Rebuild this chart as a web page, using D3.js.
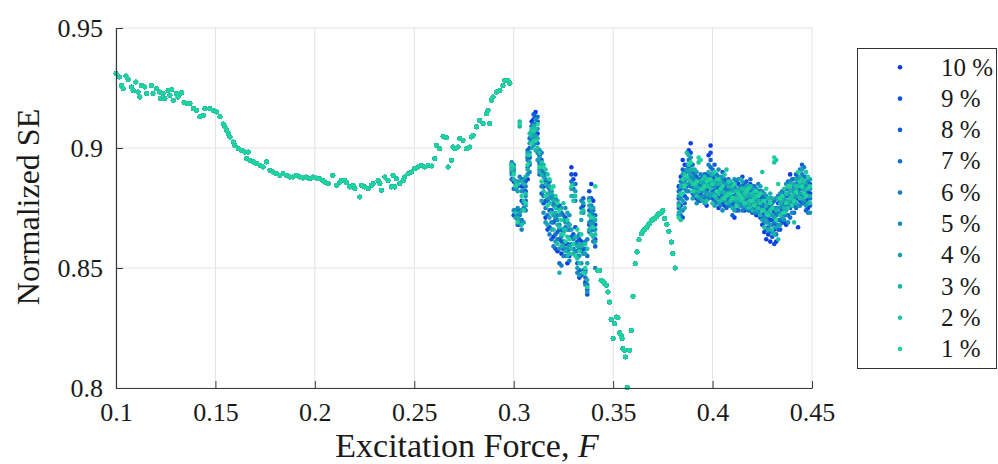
<!DOCTYPE html>
<html>
<head>
<meta charset="utf-8">
<script src="https://cdn.jsdelivr.net/npm/d3@7"></script>
<style>
  body { margin: 0; background: #fff; }
  text { font-family: "Liberation Serif", "Times New Roman", serif; fill: #1a1a1a; }
</style>
</head>
<body>
<div id="chart"></div>
<script>
var svgWidth = 998;
var svgHeight = 464;

// legend entries, drawn first to last (1 % ends up on top)
var levels = ["10 %", "9 %", "8 %", "7 %", "6 %", "5 %", "4 %", "3 %", "2 %", "1 %"];

var xTicks = [0.1, 0.15, 0.2, 0.25, 0.3, 0.35, 0.4, 0.45];
var yTicks = [0.8, 0.85, 0.9, 0.95];

// F < 0.3 : all levels sit on the same branch
var smoothF = [0.1000, 0.1017, 0.1028, 0.1036, 0.1050, 0.1061, 0.1078, 0.1086, 0.1100, 0.1111,
  0.1120, 0.1128, 0.1145, 0.1154, 0.1178, 0.1186, 0.1203, 0.1220, 0.1224, 0.1237,
  0.1246, 0.1262, 0.1271, 0.1280, 0.1288, 0.1304, 0.1312, 0.1320, 0.1330, 0.1342,
  0.1359, 0.1372, 0.1390, 0.1405, 0.1422, 0.1439, 0.1447, 0.1472, 0.1489, 0.1506,
  0.1523, 0.1539, 0.1548, 0.1556, 0.1565, 0.1573, 0.1590, 0.1598, 0.1615, 0.1632,
  0.1648, 0.1657, 0.1665, 0.1673, 0.1690, 0.1707, 0.1724, 0.1740, 0.1757, 0.1774,
  0.1790, 0.1807, 0.1824, 0.1840, 0.1857, 0.1874, 0.1890, 0.1907, 0.1924, 0.1940,
  0.1957, 0.1974, 0.1990, 0.2007, 0.2024, 0.2040, 0.2050, 0.2067, 0.2090, 0.2110,
  0.2126, 0.2134, 0.2150, 0.2160, 0.2176, 0.2192, 0.2201, 0.2226, 0.2235, 0.2250,
  0.2268, 0.2285, 0.2293, 0.2318, 0.2327, 0.2335, 0.2352, 0.2368, 0.2385, 0.2393,
  0.2402, 0.2410, 0.2427, 0.2444, 0.2452, 0.2469, 0.2486, 0.2502, 0.2518, 0.2535,
  0.2552, 0.2570, 0.2588, 0.2603, 0.2611, 0.2628, 0.2645, 0.2661, 0.2670, 0.2687,
  0.2695, 0.2704, 0.2720, 0.2729, 0.2745, 0.2762, 0.2779, 0.2787, 0.2796, 0.2813,
  0.2829, 0.2846, 0.2863, 0.2871, 0.2879, 0.2888, 0.2896, 0.2913, 0.2930, 0.2946,
  0.2955, 0.2971, 0.2980];
var smoothSE = [0.9310, 0.9296, 0.9260, 0.9247, 0.9300, 0.9285, 0.9254, 0.9240, 0.9275, 0.9233,
  0.9212, 0.9260, 0.9254, 0.9227, 0.9260, 0.9227, 0.9247, 0.9233, 0.9206, 0.9227,
  0.9206, 0.9240, 0.9220, 0.9243, 0.9199, 0.9227, 0.9212, 0.9225, 0.9230, 0.9190,
  0.9185, 0.9185, 0.9164, 0.9157, 0.9130, 0.9136, 0.9164, 0.9164, 0.9157, 0.9150,
  0.9130, 0.9100, 0.9088, 0.9074, 0.9060, 0.9046, 0.9025, 0.9010, 0.8997, 0.8990,
  0.8983, 0.8956, 0.8983, 0.8949, 0.8942, 0.8935, 0.8928, 0.8921, 0.8942, 0.8907,
  0.8900, 0.8893, 0.8886, 0.8893, 0.8886, 0.8879, 0.8879, 0.8886, 0.8879, 0.8875,
  0.8879, 0.8872, 0.8879, 0.8875, 0.8872, 0.8865, 0.8858, 0.8852, 0.8886, 0.8845,
  0.8858, 0.8865, 0.8865, 0.8855, 0.8838, 0.8845, 0.8831, 0.8796, 0.8845, 0.8838,
  0.8831, 0.8845, 0.8852, 0.8865, 0.8852, 0.8824, 0.8879, 0.8865, 0.8838, 0.8886,
  0.8838, 0.8872, 0.8852, 0.8865, 0.8879, 0.8893, 0.8900, 0.8914, 0.8921, 0.8928,
  0.8921, 0.8928, 0.8925, 0.8956, 0.9011, 0.8997, 0.9049, 0.9043, 0.8921, 0.8949,
  0.9004, 0.8997, 0.9004, 0.9039, 0.9032, 0.8997, 0.9004, 0.9046, 0.9053, 0.9088,
  0.9115, 0.9102, 0.9143, 0.9157, 0.9102, 0.9199, 0.9212, 0.9233, 0.9240, 0.9260,
  0.9282, 0.9282, 0.9270];

// 0.3 < F < 0.342 : levels split, one row per F, columns 10 % ... 1 %
var burstF = [0.299, 0.300, 0.301, 0.302, 0.303, 0.304, 0.305, 0.306, 0.307, 0.308,
  0.309, 0.310, 0.311, 0.312, 0.313, 0.314, 0.315, 0.316, 0.317, 0.318,
  0.319, 0.320, 0.321, 0.322, 0.323, 0.324, 0.325, 0.326, 0.327, 0.328,
  0.329, 0.330, 0.331, 0.332, 0.333, 0.334, 0.335, 0.336, 0.337, 0.338,
  0.339, 0.340, 0.341];
var burstSE = [
  [0.890, 0.893, 0.887, 0.891, 0.894, 0.889, 0.892, 0.893, 0.891, 0.893],
  [0.886, 0.872, 0.891, 0.883, 0.893, 0.874, 0.890, 0.887, 0.892, 0.889],
  [0.884, 0.872, 0.886, 0.874, 0.883, 0.885, 0.871, 0.886, 0.873, 0.884],
  [0.873, 0.868, 0.884, 0.870, 0.886, 0.875, 0.882, 0.871, 0.885, 0.869],
  [0.869, 0.874, 0.868, 0.872, 0.888, 0.870, 0.873, 0.909, 0.911, 0.910],
  [0.878, 0.884, 0.870, 0.887, 0.866, 0.882, 0.874, 0.886, 0.868, 0.880],
  [0.884, 0.886, 0.877, 0.882, 0.875, 0.887, 0.869, 0.885, 0.878, 0.874],
  [0.882, 0.878, 0.886, 0.874, 0.884, 0.880, 0.876, 0.888, 0.881, 0.877],
  [0.887, 0.896, 0.899, 0.892, 0.895, 0.889, 0.898, 0.891, 0.897, 0.893],
  [0.896, 0.900, 0.893, 0.904, 0.890, 0.898, 0.902, 0.894, 0.906, 0.897],
  [0.911, 0.906, 0.909, 0.903, 0.904, 0.907, 0.900, 0.905, 0.908, 0.902],
  [0.912, 0.908, 0.914, 0.904, 0.910, 0.906, 0.901, 0.909, 0.903, 0.907],
  [0.915, 0.913, 0.906, 0.910, 0.902, 0.912, 0.905, 0.899, 0.908, 0.903],
  [0.906, 0.911, 0.902, 0.913, 0.898, 0.908, 0.895, 0.904, 0.900, 0.910],
  [0.894, 0.889, 0.897, 0.891, 0.899, 0.893, 0.896, 0.890, 0.898, 0.892],
  [0.890, 0.895, 0.881, 0.898, 0.884, 0.892, 0.878, 0.889, 0.894, 0.886],
  [0.884, 0.877, 0.889, 0.880, 0.891, 0.873, 0.888, 0.893, 0.882, 0.892],
  [0.871, 0.886, 0.878, 0.889, 0.875, 0.887, 0.869, 0.885, 0.891, 0.880],
  [0.878, 0.866, 0.885, 0.872, 0.884, 0.879, 0.868, 0.881, 0.889, 0.876],
  [0.867, 0.883, 0.874, 0.886, 0.864, 0.881, 0.871, 0.884, 0.877, 0.887],
  [0.874, 0.880, 0.862, 0.882, 0.869, 0.879, 0.866, 0.881, 0.873, 0.883],
  [0.863, 0.877, 0.869, 0.880, 0.859, 0.876, 0.872, 0.878, 0.866, 0.884],
  [0.870, 0.858, 0.876, 0.864, 0.879, 0.871, 0.861, 0.873, 0.875, 0.880],
  [0.857, 0.872, 0.865, 0.875, 0.862, 0.870, 0.878, 0.868, 0.860, 0.877],
  [0.862, 0.876, 0.866, 0.852, 0.868, 0.858, 0.872, 0.848, 0.867, 0.874],
  [0.856, 0.866, 0.861, 0.873, 0.851, 0.863, 0.875, 0.859, 0.864, 0.870],
  [0.858, 0.865, 0.861, 0.872, 0.855, 0.870, 0.859, 0.866, 0.877, 0.864],
  [0.860, 0.871, 0.855, 0.867, 0.858, 0.875, 0.869, 0.857, 0.866, 0.861],
  [0.852, 0.860, 0.857, 0.869, 0.866, 0.858, 0.873, 0.855, 0.863, 0.870],
  [0.855, 0.868, 0.858, 0.866, 0.853, 0.872, 0.859, 0.868, 0.856, 0.862],
  [0.892, 0.889, 0.863, 0.886, 0.860, 0.883, 0.866, 0.880, 0.858, 0.884],
  [0.887, 0.864, 0.883, 0.858, 0.880, 0.862, 0.885, 0.856, 0.878, 0.860],
  [0.889, 0.867, 0.885, 0.860, 0.878, 0.857, 0.882, 0.863, 0.880, 0.855],
  [0.857, 0.852, 0.861, 0.855, 0.848, 0.863, 0.850, 0.859, 0.854, 0.866],
  [0.846, 0.862, 0.849, 0.858, 0.864, 0.855, 0.847, 0.860, 0.852, 0.857],
  [0.861, 0.847, 0.875, 0.857, 0.878, 0.852, 0.870, 0.859, 0.873, 0.864],
  [0.876, 0.858, 0.879, 0.849, 0.873, 0.856, 0.877, 0.860, 0.874, 0.848],
  [0.844, 0.849, 0.858, 0.846, 0.861, 0.843, 0.856, 0.848, 0.860, 0.850],
  [0.841, 0.839, 0.855, 0.843, 0.862, 0.840, 0.852, 0.845, 0.858, 0.842],
  [0.868, 0.882, 0.874, 0.865, 0.879, 0.869, 0.876, 0.866, 0.872, 0.878],
  [0.885, 0.879, 0.870, 0.876, 0.866, 0.873, 0.868, 0.875, 0.864, 0.871],
  [0.878, 0.872, 0.866, 0.874, 0.861, 0.869, 0.875, 0.863, 0.871, 0.867],
  [0.862, 0.868, 0.859, 0.872, 0.850, 0.866, 0.861, 0.870, 0.864, 0.884]
];

// 0.342 < F < 0.382 : dip and arc, levels coincide again
var dipF = [0.3423, 0.3432, 0.3440, 0.3450, 0.3457, 0.3466, 0.3474, 0.3482, 0.3490, 0.3500,
  0.3508, 0.3516, 0.3524, 0.3533, 0.3540, 0.3545, 0.3549, 0.3558, 0.3562, 0.3571,
  0.3583, 0.3591, 0.3600, 0.3611, 0.3620, 0.3630, 0.3642, 0.3650, 0.3658, 0.3667,
  0.3675, 0.3683, 0.3692, 0.3700, 0.3708, 0.3717, 0.3725, 0.3733, 0.3742, 0.3750,
  0.3759, 0.3770, 0.3780, 0.3793, 0.3800, 0.3812];
var dipSE = [0.8490, 0.8490, 0.8449, 0.8442, 0.8435, 0.8428, 0.8400, 0.8358, 0.8285, 0.8206,
  0.8268, 0.8296, 0.8293, 0.8230, 0.8220, 0.8206, 0.8164, 0.8157, 0.8129, 0.8002,
  0.8157, 0.8240, 0.8382, 0.8518, 0.8567, 0.8618, 0.8643, 0.8652, 0.8660, 0.8668,
  0.8677, 0.8685, 0.8697, 0.8702, 0.8706, 0.8713, 0.8723, 0.8727, 0.8730, 0.8740,
  0.8706, 0.8682, 0.8653, 0.8608, 0.8560, 0.8500];

// F > 0.382 : scattered band, one row per F, columns 10 % ... 1 %
var bandF = [0.383, 0.384, 0.385, 0.386, 0.387, 0.388, 0.389, 0.390, 0.391, 0.392,
  0.393, 0.394, 0.395, 0.396, 0.397, 0.398, 0.399, 0.400, 0.401, 0.402,
  0.403, 0.404, 0.405, 0.406, 0.407, 0.408, 0.409, 0.410, 0.411, 0.412,
  0.413, 0.414, 0.415, 0.416, 0.417, 0.418, 0.419, 0.420, 0.421, 0.422,
  0.423, 0.424, 0.425, 0.426, 0.427, 0.428, 0.429, 0.430, 0.431, 0.432,
  0.433, 0.434, 0.435, 0.436, 0.437, 0.438, 0.439, 0.440, 0.441, 0.442,
  0.443, 0.444, 0.445, 0.446, 0.447, 0.448, 0.449];
var bandSE = [
  [0.884, 0.879, 0.875, 0.882, 0.872, 0.877, 0.880, 0.873, 0.876, 0.871],
  [0.888, 0.876, 0.883, 0.872, 0.886, 0.879, 0.874, 0.884, 0.870, 0.881],
  [0.895, 0.871, 0.891, 0.886, 0.874, 0.889, 0.878, 0.884, 0.881, 0.887],
  [0.893, 0.880, 0.887, 0.877, 0.890, 0.883, 0.886, 0.875, 0.889, 0.884],
  [0.890, 0.884, 0.893, 0.879, 0.887, 0.882, 0.891, 0.885, 0.898, 0.888],
  [0.899, 0.885, 0.892, 0.888, 0.895, 0.882, 0.890, 0.897, 0.887, 0.893],
  [0.902, 0.898, 0.887, 0.893, 0.884, 0.896, 0.889, 0.891, 0.886, 0.894],
  [0.884, 0.890, 0.881, 0.893, 0.886, 0.888, 0.879, 0.891, 0.885, 0.882],
  [0.880, 0.886, 0.883, 0.889, 0.881, 0.887, 0.884, 0.891, 0.882, 0.885],
  [0.879, 0.883, 0.888, 0.881, 0.885, 0.877, 0.890, 0.884, 0.880, 0.886],
  [0.878, 0.885, 0.881, 0.887, 0.883, 0.879, 0.886, 0.882, 0.894, 0.896],
  [0.881, 0.887, 0.878, 0.884, 0.889, 0.882, 0.879, 0.886, 0.883, 0.895],
  [0.884, 0.879, 0.888, 0.882, 0.886, 0.880, 0.885, 0.878, 0.887, 0.883],
  [0.886, 0.878, 0.883, 0.889, 0.880, 0.885, 0.882, 0.877, 0.888, 0.884],
  [0.876, 0.889, 0.882, 0.885, 0.879, 0.887, 0.881, 0.884, 0.878, 0.886],
  [0.897, 0.883, 0.888, 0.879, 0.893, 0.885, 0.881, 0.890, 0.884, 0.887],
  [0.901, 0.898, 0.895, 0.892, 0.884, 0.889, 0.880, 0.886, 0.883, 0.887],
  [0.882, 0.888, 0.879, 0.891, 0.884, 0.886, 0.881, 0.889, 0.877, 0.885],
  [0.887, 0.882, 0.893, 0.878, 0.889, 0.884, 0.876, 0.886, 0.880, 0.890],
  [0.880, 0.886, 0.883, 0.877, 0.889, 0.881, 0.885, 0.879, 0.887, 0.882],
  [0.875, 0.884, 0.879, 0.888, 0.882, 0.891, 0.877, 0.885, 0.881, 0.887],
  [0.887, 0.879, 0.884, 0.881, 0.876, 0.888, 0.882, 0.886, 0.878, 0.883],
  [0.883, 0.877, 0.890, 0.880, 0.886, 0.874, 0.888, 0.882, 0.879, 0.884],
  [0.876, 0.884, 0.880, 0.887, 0.882, 0.878, 0.885, 0.881, 0.889, 0.879],
  [0.879, 0.886, 0.875, 0.883, 0.878, 0.885, 0.881, 0.877, 0.891, 0.880],
  [0.884, 0.878, 0.887, 0.876, 0.882, 0.880, 0.877, 0.884, 0.881, 0.886],
  [0.882, 0.877, 0.885, 0.879, 0.876, 0.883, 0.880, 0.886, 0.878, 0.881],
  [0.877, 0.883, 0.872, 0.880, 0.885, 0.878, 0.882, 0.875, 0.884, 0.879],
  [0.871, 0.880, 0.876, 0.884, 0.878, 0.887, 0.874, 0.882, 0.879, 0.885],
  [0.881, 0.874, 0.879, 0.886, 0.877, 0.883, 0.880, 0.878, 0.882, 0.876],
  [0.885, 0.878, 0.882, 0.874, 0.887, 0.880, 0.876, 0.883, 0.879, 0.881],
  [0.879, 0.883, 0.877, 0.881, 0.884, 0.876, 0.882, 0.887, 0.878, 0.880],
  [0.876, 0.888, 0.880, 0.884, 0.874, 0.882, 0.886, 0.878, 0.883, 0.879],
  [0.874, 0.880, 0.885, 0.878, 0.882, 0.879, 0.876, 0.883, 0.881, 0.877],
  [0.883, 0.877, 0.886, 0.879, 0.881, 0.875, 0.884, 0.880, 0.877, 0.882],
  [0.880, 0.876, 0.882, 0.874, 0.879, 0.884, 0.877, 0.881, 0.875, 0.883],
  [0.879, 0.885, 0.874, 0.887, 0.877, 0.883, 0.880, 0.876, 0.884, 0.878],
  [0.877, 0.882, 0.873, 0.879, 0.884, 0.876, 0.880, 0.874, 0.881, 0.878],
  [0.875, 0.881, 0.878, 0.884, 0.873, 0.880, 0.877, 0.882, 0.879, 0.876],
  [0.872, 0.878, 0.881, 0.875, 0.879, 0.883, 0.874, 0.877, 0.880, 0.882],
  [0.882, 0.874, 0.879, 0.876, 0.885, 0.873, 0.881, 0.878, 0.875, 0.880],
  [0.879, 0.871, 0.876, 0.882, 0.874, 0.878, 0.884, 0.872, 0.877, 0.881],
  [0.868, 0.877, 0.872, 0.880, 0.875, 0.882, 0.870, 0.878, 0.890, 0.874],
  [0.865, 0.873, 0.879, 0.869, 0.876, 0.871, 0.881, 0.874, 0.867, 0.878],
  [0.862, 0.874, 0.866, 0.878, 0.871, 0.880, 0.869, 0.876, 0.873, 0.883],
  [0.864, 0.871, 0.867, 0.875, 0.869, 0.877, 0.873, 0.866, 0.879, 0.872],
  [0.861, 0.870, 0.876, 0.865, 0.879, 0.872, 0.868, 0.881, 0.874, 0.877],
  [0.870, 0.863, 0.874, 0.868, 0.877, 0.865, 0.872, 0.879, 0.866, 0.875],
  [0.866, 0.860, 0.873, 0.878, 0.869, 0.875, 0.871, 0.864, 0.894, 0.896],
  [0.861, 0.868, 0.875, 0.864, 0.872, 0.879, 0.867, 0.874, 0.895, 0.870],
  [0.870, 0.877, 0.866, 0.880, 0.873, 0.868, 0.875, 0.879, 0.862, 0.885],
  [0.873, 0.866, 0.878, 0.870, 0.875, 0.881, 0.868, 0.877, 0.872, 0.879],
  [0.874, 0.869, 0.879, 0.872, 0.882, 0.876, 0.871, 0.878, 0.873, 0.880],
  [0.869, 0.877, 0.872, 0.881, 0.874, 0.870, 0.879, 0.875, 0.883, 0.873],
  [0.868, 0.883, 0.876, 0.880, 0.872, 0.885, 0.878, 0.874, 0.881, 0.877],
  [0.880, 0.872, 0.886, 0.876, 0.883, 0.869, 0.881, 0.878, 0.875, 0.884],
  [0.889, 0.875, 0.884, 0.871, 0.880, 0.886, 0.877, 0.882, 0.879, 0.884],
  [0.876, 0.884, 0.879, 0.887, 0.873, 0.882, 0.878, 0.885, 0.880, 0.876],
  [0.882, 0.876, 0.887, 0.873, 0.884, 0.879, 0.885, 0.881, 0.869, 0.878],
  [0.885, 0.879, 0.889, 0.875, 0.883, 0.880, 0.887, 0.877, 0.884, 0.882],
  [0.867, 0.885, 0.879, 0.888, 0.882, 0.876, 0.886, 0.880, 0.884, 0.890],
  [0.878, 0.887, 0.883, 0.891, 0.876, 0.885, 0.881, 0.888, 0.879, 0.886],
  [0.886, 0.880, 0.893, 0.877, 0.889, 0.883, 0.891, 0.879, 0.887, 0.884],
  [0.883, 0.877, 0.888, 0.880, 0.892, 0.878, 0.885, 0.882, 0.886, 0.881],
  [0.878, 0.884, 0.874, 0.888, 0.881, 0.886, 0.876, 0.883, 0.890, 0.880],
  [0.875, 0.882, 0.879, 0.886, 0.873, 0.884, 0.880, 0.877, 0.883, 0.888],
  [0.881, 0.876, 0.885, 0.879, 0.883, 0.873, 0.887, 0.880, 0.877, 0.884]
];

var margin = { top: 28, right: 186, bottom: 76, left: 116 };
var width = svgWidth - margin.left - margin.right;
var height = svgHeight - margin.top - margin.bottom;

var svg = d3.select("#chart")
    .append("svg")
    .attr("width", svgWidth)
    .attr("height", svgHeight);

var chartGroup = svg.append("g")
    .attr("transform", `translate(${margin.left}, ${margin.top})`);

var xScale = d3.scaleLinear().domain([0.1, 0.45]).range([0, width]);
var yScale = d3.scaleLinear().domain([0.8, 0.95]).range([height, 0]);

// blue (10 %) to teal green (1 %)
var colour = d3.scaleLinear()
    .domain([0, levels.length - 1])
    .range(["#0a3ce6", "#1ed39c"])
    .interpolate(d3.interpolateRgb);

// one point list per level
var series = levels.map(function(name, i) {
    var pts = [];
    smoothF.forEach((f, j) => pts.push({ f: f, se: smoothSE[j] }));
    burstF.forEach((f, j) => pts.push({ f: f, se: burstSE[j][i] }));
    dipF.forEach((f, j) => pts.push({ f: f, se: dipSE[j] }));
    bandF.forEach((f, j) => pts.push({ f: f, se: bandSE[j][i] }));
    return { name: name, colour: colour(i), points: pts };
});

// grid
chartGroup.append("g")
    .selectAll("line")
    .data(xTicks)
    .enter()
    .append("line")
    .attr("x1", d => xScale(d)).attr("x2", d => xScale(d))
    .attr("y1", 0).attr("y2", height)
    .attr("stroke", "#e2e2e2");

chartGroup.append("g")
    .selectAll("line")
    .data(yTicks)
    .enter()
    .append("line")
    .attr("x1", 0).attr("x2", width)
    .attr("y1", d => yScale(d)).attr("y2", d => yScale(d))
    .attr("stroke", "#e2e2e2");

// points
chartGroup.selectAll(".level")
    .data(series)
    .enter()
    .append("g")
    .attr("class", "level")
    .attr("fill", d => d.colour)
    .selectAll("circle")
    .data(d => d.points)
    .enter()
    .append("circle")
    .attr("cx", d => xScale(d.f))
    .attr("cy", d => yScale(d.se))
    .attr("r", 2.3);

// axes, ticks pointing inwards
var bottomAxis = d3.axisBottom(xScale)
    .tickValues(xTicks)
    .tickFormat(d => String(d))
    .tickSizeInner(-7)
    .tickSizeOuter(0)
    .tickPadding(14.5);

var leftAxis = d3.axisLeft(yScale)
    .tickValues(yTicks)
    .tickFormat(d => String(d))
    .tickSizeInner(-7)
    .tickSizeOuter(0)
    .tickPadding(13);

var xAxisG = chartGroup.append("g")
    .attr("transform", `translate(0, ${height})`)
    .call(bottomAxis);

var yAxisG = chartGroup.append("g")
    .call(leftAxis);

[xAxisG, yAxisG].forEach(function(g) {
    g.select(".domain").attr("stroke", "#3a3a3a").attr("stroke-width", 1.2);
    g.selectAll(".tick line").attr("stroke", "#3a3a3a");
    g.selectAll(".tick text")
        .attr("fill", "#1a1a1a")
        .style("font-family", '"Liberation Serif", serif')
        .style("font-size", "26px");
});

// axis titles
svg.append("text")
    .attr("transform", "translate(39, 207) rotate(-90)")
    .attr("text-anchor", "middle")
    .style("font-size", "32px")
    .text("Normalized SE");

var xTitle = svg.append("text")
    .attr("x", 467)
    .attr("y", 456.8)
    .attr("text-anchor", "middle")
    .style("font-size", "34px");
xTitle.append("tspan").text("Excitation Force, ");
xTitle.append("tspan").style("font-style", "italic").text("F");

// legend
var legend = svg.append("g");

legend.append("rect")
    .attr("x", 857.5).attr("y", 48.5)
    .attr("width", 139).attr("height", 320)
    .attr("fill", "#fff")
    .attr("stroke", "#333");

var rows = legend.selectAll(".row")
    .data(series)
    .enter()
    .append("g")
    .attr("class", "row")
    .attr("transform", (d, i) => `translate(0, ${67.3 + i * 31.3})`);

rows.append("circle")
    .attr("cx", 900)
    .attr("cy", 0)
    .attr("r", 2.3)
    .attr("fill", d => d.colour);

rows.append("text")
    .attr("x", 941)
    .attr("dy", "0.33em")
    .style("font-size", "25px")
    .text(d => d.name);
</script>
</body>
</html>
